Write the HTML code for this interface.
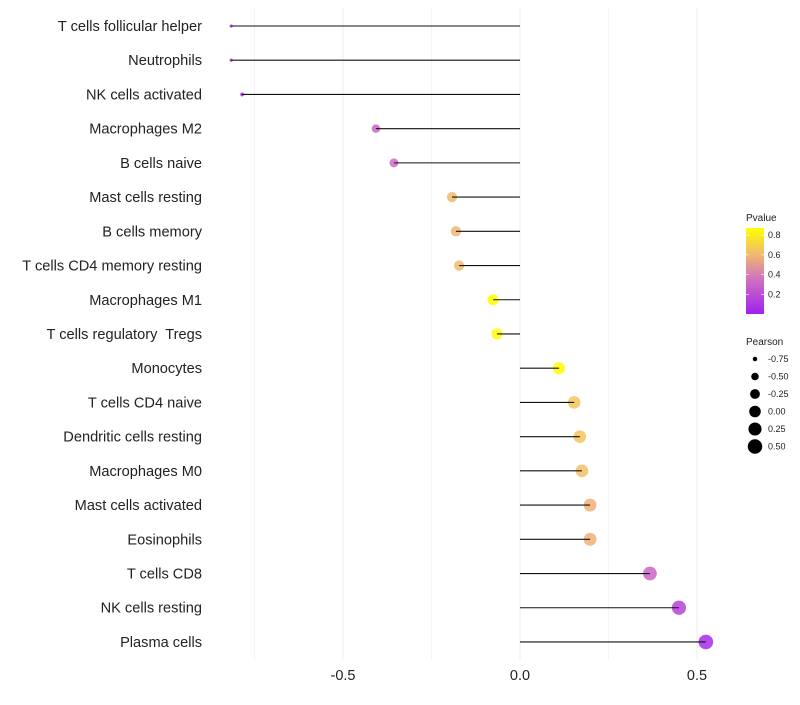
<!DOCTYPE html>
<html><head><meta charset="utf-8"><style>
body{margin:0;background:#fff;font-family:"Liberation Sans",sans-serif}
svg text{font-family:"Liberation Sans",sans-serif;white-space:pre}
</style></head><body>
<svg id="chart" width="800" height="700"></svg>
<script>
const categories=["T cells follicular helper","Neutrophils","NK cells activated","Macrophages M2","B cells naive","Mast cells resting","B cells memory","T cells CD4 memory resting","Macrophages M1","T cells regulatory  Tregs","Monocytes","T cells CD4 naive","Dendritic cells resting","Macrophages M0","Mast cells activated","Eosinophils","T cells CD8","NK cells resting","Plasma cells"];
const pearson=[-0.816,-0.816,-0.785,-0.407,-0.356,-0.192,-0.181,-0.172,-0.076,-0.065,0.110,0.153,0.169,0.175,0.198,0.198,0.367,0.449,0.525];
const pvalues=[0.02,0.02,0.03,0.30,0.33,0.60,0.60,0.62,0.87,0.86,0.86,0.65,0.65,0.63,0.58,0.58,0.30,0.15,0.05];
const xTicks=[-0.5,0.0,0.5];
const xTickLabels=["-0.5","0.0","0.5"];
const legendP=[0.8,0.6,0.4,0.2];
const legendR=[-0.75,-0.5,-0.25,0,0.25,0.5];
const legendRLabels=["-0.75","-0.50","-0.25","0.00","0.25","0.50"];

const NS="http://www.w3.org/2000/svg";
const svg=document.getElementById('chart');
function mk(t,a,p){const e=document.createElementNS(NS,t);for(const k in a)e.setAttribute(k,a[k]);(p||svg).appendChild(e);return e;}
const x=v=>520+v*354;
const y=i=>26+i*34.22;
const r=v=>Math.sqrt(2.25+38*Math.max(0,v+0.82));
const stops=[[0,[160,32,240]],[0.35,[208,112,192]],[0.6,[240,184,112]],[0.87,[255,255,0]]];
function col(p){p=Math.max(0,Math.min(0.87,p));for(let i=1;i<stops.length;i++){if(p<=stops[i][0]){const a=stops[i-1],b=stops[i],t=(p-a[0])/(b[0]-a[0]);return 'rgb('+a[1].map((c,j)=>Math.round(c+(b[1][j]-c)*t)).join(',')+')';}}return 'rgb(255,255,0)';}

[-0.75,-0.5,-0.25,0,0.25,0.5].forEach(v=>{
 const g=mk('line',{x1:x(v),x2:x(v),y1:8,y2:660,stroke:'#ededed','stroke-width':v*4%2===0?1:0.6});
 
 
});
xTicks.forEach((v,i)=>{
 const t=mk('text',{x:x(v),y:680,'text-anchor':'middle','font-size':14.5,fill:'#222'});t.textContent=xTickLabels[i];
 
 
});
categories.forEach((c,i)=>{
 const t=mk('text',{x:202,y:y(i)+5,'text-anchor':'end','font-size':14.6,fill:'#222'});t.textContent=c;
 
 
 const d=mk('circle',{cx:x(pearson[i]),cy:y(i),r:r(pearson[i]),fill:col(pvalues[i]),'fill-opacity':0.85});
 
 
 const l=mk('line',{x1:x(0),x2:x(pearson[i]),y1:y(i),y2:y(i),stroke:'#111','stroke-width':1.1});
 
 
});
const lt=mk('text',{x:746,y:221,'font-size':10,fill:'#222'});lt.textContent='Pvalue';


const defs=mk('defs',{});const lg=mk('linearGradient',{id:'pg',x1:0,y1:1,x2:0,y2:0},defs);
[0,0.35,0.6,0.87].forEach(s=>mk('stop',{offset:s/0.87,'stop-color':col(s)},lg));
const bar=mk('rect',{x:746,y:228,width:18,height:86,fill:'url(#pg)'});


const py=p=>314-p*98.5;
legendP.forEach(p=>{
 mk('line',{x1:746,x2:749,y1:py(p),y2:py(p),stroke:'#fff','stroke-width':0.6});
 mk('line',{x1:761,x2:764,y1:py(p),y2:py(p),stroke:'#fff','stroke-width':0.6});
 const t=mk('text',{x:768,y:py(p)+3,'font-size':9,fill:'#222'});t.textContent=p.toFixed(1);
 
 
});
const st=mk('text',{x:746,y:345,'font-size':10,fill:'#222'});st.textContent='Pearson';


legendR.forEach((v,i)=>{
 const cy=359+i*17.5;
 const c=mk('circle',{cx:755,cy:cy,r:r(v),fill:'#000'});
 
 
 const t=mk('text',{x:768,y:cy+3,'font-size':9,fill:'#222'});t.textContent=legendRLabels[i];
 
 
});
</script>
</body></html>
